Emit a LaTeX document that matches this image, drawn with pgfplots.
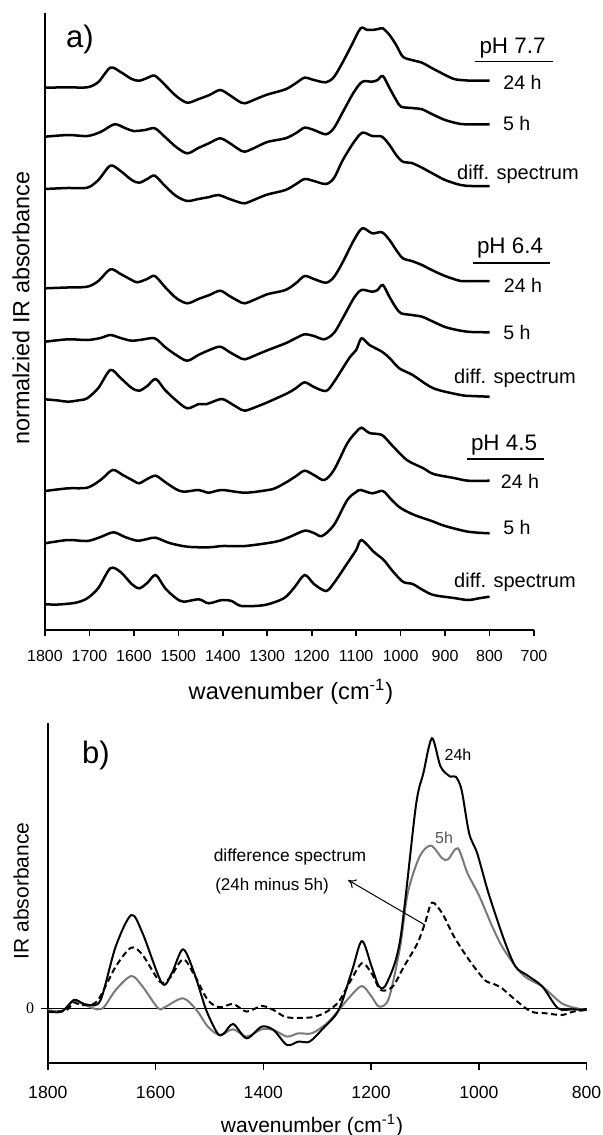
\documentclass[border=0pt]{standalone}
\usepackage{fontspec}
\setmainfont{Liberation Sans}
\newfontfamily\serif{Liberation Serif}
\usepackage{pgfplots}
\pgfplotsset{compat=1.18}
\usetikzlibrary{arrows.meta}

% panel a: absorbance with offsets (arbitrary units, height above the x axis)
\pgfplotstableread{
wn Y
1800 542.3
1748 542.7
1705 542.7
1680 548
1653 562.3
1630 558
1605 551
1588 549.3
1570 552
1553 554.3
1530 545
1505 534
1480 527.3
1454 531
1430 535
1406 540
1385 535
1365 529
1350 526.7
1320 532
1298 535.7
1259 540.7
1235 547
1216 552.3
1195 550
1168 547.7
1150 553
1130 568
1110 585
1090 601.7
1075 600
1064 600
1050 601
1040 601.7
1025 595
1010 585
995 573.3
975 570
952 567.3
930 562
900 555
880 551
865 550
840 549.3
800 549.3
}\phSevenA
\pgfplotstableread{
wn Y
1800 493.3
1748 495
1705 494
1675 498
1644 505.7
1620 502
1601 499
1575 500
1553 501.7
1530 493
1505 483
1480 476.7
1455 482
1430 487
1406 491.7
1385 487
1365 481
1350 478.3
1320 484
1298 488.3
1259 491.7
1235 497
1216 502.3
1195 500
1168 495.7
1150 502
1130 518
1105 538
1086 548.3
1064 548.3
1052 550
1040 554
1025 542
1010 530
999 523.3
975 522
952 520.7
930 516
900 510
865 506
840 505.7
800 505.7
}\phSevenB
\pgfplotstableread{
wn Y
1800 441
1750 442
1705 442.3
1680 450
1653 464.3
1630 459
1605 450
1588 447.3
1570 451
1553 454.3
1530 444
1505 434
1480 429
1455 431
1430 433
1410 435
1385 431
1365 428
1350 426.7
1320 432
1298 435.7
1259 440
1235 446
1216 451
1195 449
1168 446
1150 452
1130 470
1105 488
1086 497.3
1064 494
1042 493.3
1025 485
1010 475
995 468.3
975 467
952 462.3
930 457
900 450
865 445
840 444
800 444
}\phSevenC
\pgfplotstableread{
wn Y
1800 341.7
1750 342.5
1705 343.3
1680 349
1653 360.7
1630 356
1605 350
1592 347.7
1570 351
1553 354
1530 343
1505 332
1480 326.7
1455 331
1430 335
1406 339.3
1385 334
1365 329
1350 326.7
1320 332
1298 336
1259 340
1235 347
1216 354
1195 351
1168 347.3
1150 353
1130 368
1105 390
1086 401.7
1064 396.7
1042 397.7
1025 390
1010 380
995 371.7
975 369
952 365
930 360
900 354
865 349
840 349
800 349
}\phSixA
\pgfplotstableread{
wn Y
1800 288.3
1748 290.7
1705 290
1675 292
1653 295
1630 292
1605 289.3
1580 290.5
1553 291.7
1530 283
1505 275
1480 269.3
1455 275
1430 280
1406 283.3
1385 278
1365 273
1350 270.7
1320 276
1298 280
1259 286.7
1235 292
1216 295.7
1195 294
1172 290.7
1150 297
1130 312
1105 332
1088 340
1064 338.3
1052 340
1040 345
1025 333
1010 322
999 316.7
975 315
952 313.3
930 309
900 303
865 299.3
840 298
800 297.7
}\phSixB
\pgfplotstableread{
wn Y
1800 230.7
1770 229.5
1748 228.3
1720 230
1705 231.7
1680 242
1653 260
1630 252
1605 242
1588 239.3
1570 244
1551 251
1530 240
1506 230
1480 221.7
1454 226
1436 226
1403 231
1380 226
1365 222
1350 219.3
1320 224
1298 228
1255 236.7
1235 242
1216 247.7
1195 243
1168 239
1150 248
1116 271.7
1100 280
1088 291.7
1070 285
1042 278.3
1025 272
1003 261.7
973 255
926 241.7
865 235
840 234
800 233.3
}\phSixC
\pgfplotstableread{
wn Y
1800 139
1748 141.7
1705 142.3
1675 150
1648 160
1625 155
1600 149
1588 146.7
1570 151
1551 154.3
1530 148
1506 141
1488 138.3
1454 140
1432 137.3
1402 140
1350 137.3
1298 140
1281 142
1255 148.3
1235 154
1216 159.3
1195 155
1172 150
1150 160
1120 186.7
1100 198
1088 202.3
1070 197
1042 195
1020 185
986 170
950 162
926 156
880 152
848 149.3
800 149.3
}\phFourA
\pgfplotstableread{
wn Y
1800 86.7
1748 90
1705 89
1675 93
1646 97.7
1620 93
1592 89.3
1570 91
1551 92.3
1520 87
1480 83.3
1432 82.7
1400 84
1350 84
1281 88.3
1250 93
1216 99.3
1195 97
1177 94
1150 105
1120 130
1100 138
1090 140
1064 136.7
1040 139
1020 130
1000 122
969 115
930 109
900 104
848 98.3
800 96.7
}\phFourB
\pgfplotstableread{
wn Y
1800 25.7
1770 25.5
1731 27.3
1705 31.7
1680 42
1653 61.7
1630 58
1605 46
1588 41.7
1570 47
1551 55
1530 42
1506 32
1488 28.3
1454 30.7
1432 26.7
1402 30
1380 29
1358 24
1306 25
1263 31.7
1240 42
1216 55
1195 46
1168 39
1150 47
1120 66.7
1100 80
1088 90
1060 78
1038 70
1020 60
995 48.3
973 46
950 40
926 35
880 32
848 30
820 32
800 33.3
}\phFourC

% panel b
\pgfplotstableread{
wn A
1800 -3.3
1774 -3.3
1752 8.3
1738 5.7
1724 3.3
1702 8.3
1674 61.7
1645 93.3
1624 75
1588 25
1570 35
1549 59
1528 35
1506 -1.7
1485 -25
1474 -25.7
1456 -15.7
1431 -30
1403 -18.3
1381 -21.7
1356 -36.7
1335 -33.3
1314 -33.3
1289 -20
1260 -1.7
1235 38.3
1217 67.3
1199 41.7
1185 21.7
1171 25
1146 68.3
1117 201.7
1103 235
1087 270
1071 241.7
1053 231.7
1043 231.7
1032 218.3
1018 175
1003 155
982 115
953 68.3
932 41.7
911 33.3
882 21.7
853 0
825 -1
800 -1.7
}\bTwentyFour
\pgfplotstableread{
wn A
1800 -1.7
1774 -2.7
1752 7.7
1738 5
1709 -1
1695 1.7
1674 18.3
1645 32.3
1624 21.7
1595 0
1581 1.7
1549 10
1524 -1.7
1503 -18.3
1481 -26.7
1456 -21
1431 -28.3
1403 -21
1381 -21.7
1356 -28.3
1335 -25
1310 -25
1282 -15
1260 -1.7
1239 11.7
1217 22.3
1199 11.7
1185 1.7
1167 10
1146 61.7
1132 115
1110 151.7
1089 162.7
1068 150
1057 149
1039 160
1021 135
1000 113.3
975 81.7
953 58.3
918 33.3
882 21.7
846 5
818 0
800 -1.7
}\bFive
\pgfplotstableread{
wn A
1800 -3.3
1767 -2.3
1752 5.7
1738 3.3
1709 6.7
1674 41.7
1645 60.7
1624 53.3
1592 26.7
1574 30
1549 49
1528 33.3
1503 8.3
1481 1
1456 4.3
1431 -3.3
1403 2.3
1381 -1.7
1356 -9
1310 -9
1282 -3.3
1260 6.7
1239 26.7
1217 45
1199 35
1182 18.3
1160 21.7
1139 41.7
1114 65
1100 85
1087 105.7
1068 95
1046 71.7
1018 48.3
989 28.3
975 25
957 20
932 8.3
903 -3.3
875 -5
846 -6.7
825 -3.3
800 -1.7
}\bDiff

\definecolor{midGrey}{HTML}{7a7a7a}

\begin{document}
\begin{tikzpicture}
\path[use as bounding box] (0,0) rectangle (301.5pt,-567.5pt);

% ---- a) ----
\begin{axis}[
  at={(22.5pt,-315pt)}, anchor=south west,
  scale only axis, width=244.5pt, height=308.35pt,
  xmin=700, xmax=1800, x dir=reverse,
  ymin=0, ymax=616.7,
  axis lines*=left,
  axis line style={line width=1pt},
  xtick={700,800,...,1800}, ytick=\empty,
  tick align=outside, major tick length=2.8pt,
  tick style={line width=0.8pt,black},
  xticklabel style={font=\fontsize{8}{9}\selectfont, yshift=-4pt,
    /pgf/number format/1000 sep={}, /pgf/number format/assume math mode=true},
  clip=false,
]
\addplot[line width=1.25pt, smooth, tension=0.5] table[x=wn,y=Y]{\phSevenA};
\addplot[line width=1.25pt, smooth, tension=0.5] table[x=wn,y=Y]{\phSevenB};
\addplot[line width=1.25pt, smooth, tension=0.5] table[x=wn,y=Y]{\phSevenC};
\addplot[line width=1.25pt, smooth, tension=0.5] table[x=wn,y=Y]{\phSixA};
\addplot[line width=1.25pt, smooth, tension=0.5] table[x=wn,y=Y]{\phSixB};
\addplot[line width=1.25pt, smooth, tension=0.5] table[x=wn,y=Y]{\phSixC};
\addplot[line width=1.25pt, smooth, tension=0.5] table[x=wn,y=Y]{\phFourA};
\addplot[line width=1.25pt, smooth, tension=0.5] table[x=wn,y=Y]{\phFourB};
\addplot[line width=1.25pt, smooth, tension=0.5] table[x=wn,y=Y]{\phFourC};
\end{axis}

% ---- b) ----
\begin{axis}[
  at={(23.9pt,-531.5pt)}, anchor=south west,
  scale only axis, width=269.4pt, height=170pt,
  xmin=800, xmax=1800, x dir=reverse,
  ymin=-54.7, ymax=285.3,
  axis lines*=left,
  axis line style={line width=1pt},
  xtick={800,1000,...,1800}, ytick={0}, yticklabels={0},
  tick align=outside, major tick length=3.3pt,
  tick style={line width=0.8pt,black},
  xticklabel style={font=\fontsize{8.8}{10}\selectfont, yshift=-5pt,
    /pgf/number format/1000 sep={}, /pgf/number format/assume math mode=true},
  yticklabel style={font=\serif\fontsize{8}{9}\selectfont},
  clip=false,
]
\addplot[line width=0.5pt] coordinates {(1800,0) (800,0)};
\addplot[midGrey, line width=1pt, smooth, tension=0.5] table[x=wn,y=A]{\bFive};
\addplot[line width=1pt, dash pattern=on 3pt off 1.8pt, smooth, tension=0.5] table[x=wn,y=A]{\bDiff};
\addplot[line width=1pt, smooth, tension=0.5] table[x=wn,y=A]{\bTwentyFour};
\end{axis}

% ---- labels (pixel grid, 1px = 0.5pt) ----
\begin{scope}[x=0.5pt, y=-0.5pt]
\node[font=\fontsize{15.5}{17}\selectfont] at (80,39) {a)};
\node[font=\fontsize{11.2}{13}\selectfont] at (512.5,48) {pH 7.7};
\draw[line width=0.75pt] (475,61.7) -- (552.7,61.7);
\node[font=\fontsize{9.8}{11}\selectfont] at (522.5,82) {24 h};
\node[font=\fontsize{9.8}{11}\selectfont] at (516.7,123) {5 h};
\node[font=\fontsize{10}{11}\selectfont] at (518,174) {diff. spectrum};
\node[font=\fontsize{11.2}{13}\selectfont] at (510,248) {pH 6.4};
\draw[line width=0.75pt] (473,263) -- (550,263);
\node[font=\fontsize{9.8}{11}\selectfont] at (523,285) {24 h};
\node[font=\fontsize{9.8}{11}\selectfont] at (517,332) {5 h};
\node[font=\fontsize{10}{11}\selectfont] at (515,378) {diff. spectrum};
\node[font=\fontsize{11.2}{13}\selectfont] at (504,445) {pH 4.5};
\draw[line width=0.75pt] (467,459) -- (544,459);
\node[font=\fontsize{9.8}{11}\selectfont] at (520,481) {24 h};
\node[font=\fontsize{9.8}{11}\selectfont] at (517,527) {5 h};
\node[font=\fontsize{10}{11}\selectfont] at (515,582) {diff. spectrum};
\node[font=\fontsize{11.7}{13}\selectfont, rotate=90] at (21,308) {normalzied IR absorbance};
\node[font=\fontsize{11.8}{13}\selectfont] at (291,692) {wavenumber (cm\textsuperscript{-1})};

\node[font=\fontsize{15.5}{17}\selectfont] at (96,755) {b)};
\node[font=\fontsize{8}{9}\selectfont] at (458,755) {24h};
\node[font=\fontsize{8}{9}\selectfont, midGrey!70!black] at (444,838) {5h};
\node[font=\fontsize{8.7}{10}\selectfont] at (290,857) {difference spectrum};
\node[font=\fontsize{8.5}{10}\selectfont] at (272,886) {(24h minus 5h)};
\draw[line width=0.5pt, -{To[length=4pt,width=5pt]}] (425,925) -- (348,880);
\node[font=\fontsize{10.5}{12}\selectfont, rotate=90] at (21,891) {IR absorbance};
\node[font=\fontsize{10.5}{12}\selectfont] at (312,1126) {wavenumber (cm\textsuperscript{-1})};
\end{scope}
\end{tikzpicture}
\end{document}
